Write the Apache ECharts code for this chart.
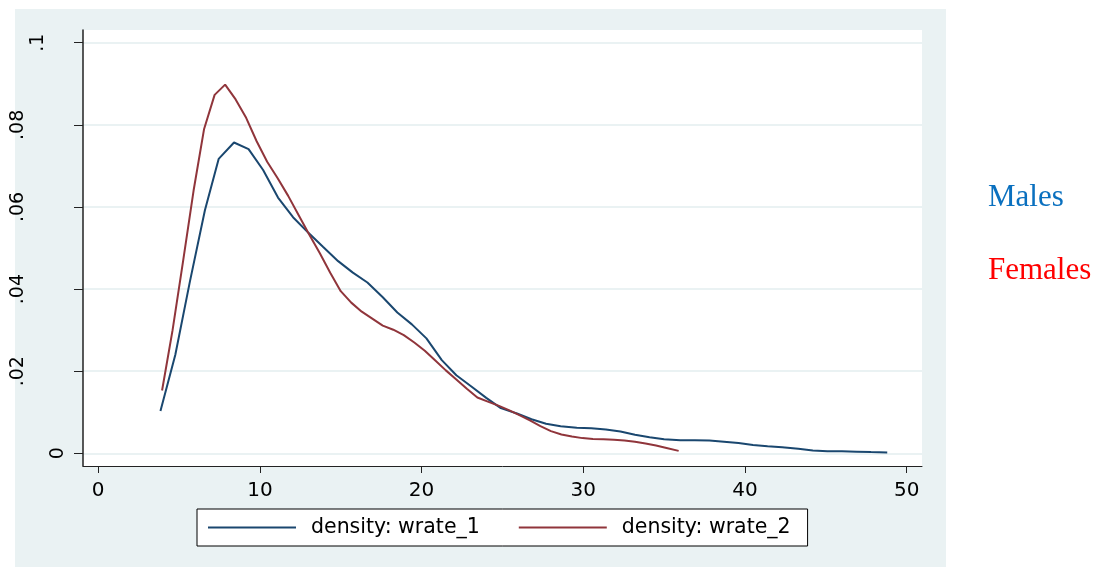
<!DOCTYPE html>
<html>
<head>
<meta charset="utf-8">
<script src="https://cdn.jsdelivr.net/npm/echarts@6/dist/echarts.min.js"></script>
<style>
html, body { margin: 0; padding: 0; background: #fff; }
#chart { width: 1096px; height: 567px; }
</style>
</head>
<body>
<div id="chart"></div>
<script>
var xTicks = [0, 10, 20, 30, 40, 50];
var yTicks = [0, 0.02, 0.04, 0.06, 0.08, 0.1];
var seriesNames = ['density: wrate_1', 'density: wrate_2'];

// [wrate, density]
var males = [
    [3.85, 0.0103], [4.77, 0.0240], [5.68, 0.0420], [6.6, 0.0592], [7.45, 0.0717],
    [8.4, 0.0757], [9.3, 0.0741], [10.2, 0.0690], [11.12, 0.0623], [12.05, 0.0575],
    [13.0, 0.0537], [13.9, 0.0503], [14.84, 0.0468], [15.75, 0.0440], [16.65, 0.0416],
    [17.6, 0.0380], [18.5, 0.0343], [19.4, 0.0314], [20.3, 0.0280], [21.25, 0.0227],
    [22.15, 0.0190], [23.1, 0.0162], [24.0, 0.0135], [24.9, 0.0110], [25.9, 0.0097],
    [26.8, 0.0083], [27.7, 0.0072], [28.6, 0.0066], [29.6, 0.0062], [30.5, 0.0061],
    [31.4, 0.0058], [32.3, 0.0053], [33.2, 0.0045], [34.1, 0.0039], [35.0, 0.0034],
    [36.0, 0.0032], [36.9, 0.0032], [37.8, 0.0031], [38.7, 0.0028], [39.6, 0.0025],
    [40.5, 0.0020], [41.4, 0.0017], [42.3, 0.0015], [43.3, 0.0011], [44.2, 0.0007],
    [45.1, 0.0005], [46.0, 0.0005], [46.9, 0.0004], [47.8, 0.0003], [48.8, 0.0002]
];
var females = [
    [3.95, 0.0153], [4.6, 0.0300], [5.25, 0.0468], [5.9, 0.0640], [6.55, 0.0790],
    [7.2, 0.0873], [7.85, 0.0898], [8.5, 0.0862], [9.15, 0.0817], [9.8, 0.0760],
    [10.45, 0.0710], [11.1, 0.0670], [11.75, 0.0627], [12.4, 0.0580], [13.05, 0.0533],
    [13.7, 0.0488], [14.35, 0.0440], [15.0, 0.0395], [15.65, 0.0367], [16.3, 0.0345],
    [16.95, 0.0328], [17.6, 0.0311], [18.25, 0.0301], [18.9, 0.0288], [19.55, 0.0270],
    [20.2, 0.0250], [20.85, 0.0226], [21.5, 0.0202], [22.15, 0.0180], [22.8, 0.0157],
    [23.45, 0.0136], [24.1, 0.0126], [24.75, 0.0116], [25.4, 0.0105], [26.05, 0.0093],
    [26.7, 0.0080], [27.35, 0.0066], [28.0, 0.0054], [28.65, 0.0046], [29.3, 0.0041],
    [29.95, 0.0037], [30.6, 0.0035], [31.25, 0.0034], [31.9, 0.0033], [32.55, 0.0031],
    [33.2, 0.0028], [33.85, 0.0024], [34.5, 0.0019], [35.15, 0.0013], [35.9, 0.0006]
];

var chart = echarts.init(document.getElementById('chart'));
var font = 'DejaVu Sans';

chart.setOption({
    backgroundColor: '#fff',
    animation: false,
    graphic: [{
        type: 'rect', z: -10, silent: true,
        shape: { x: 15, y: 9, width: 931, height: 558 },
        style: { fill: '#eaf2f3' }
    }, {
        type: 'text', left: 988, top: 182,
        style: { text: 'Males', fill: '#0a70bf', font: '31px "Liberation Serif"' }
    }, {
        type: 'text', left: 988, top: 255,
        style: { text: 'Females', fill: '#ff0000', font: '31px "Liberation Serif"' }
    }],
    grid: {
        left: 83, top: 30, right: 174, bottom: 101,
        show: true, backgroundColor: '#fff', borderWidth: 0
    },
    legend: {
        left: 197, top: 509,
        padding: [8, 17, 8, 11],
        itemGap: 39,
        icon: 'rect',
        itemWidth: 88, itemHeight: 2,
        backgroundColor: '#fff',
        borderColor: '#000', borderWidth: 1, borderRadius: 0,
        textStyle: { fontFamily: font, fontSize: 20.5, color: '#000', padding: [0, 0, 0, 10] },
        data: seriesNames
    },
    xAxis: {
        type: 'value', min: -0.94, max: 50.95,
        axisLine: { show: true, onZero: false, lineStyle: { color: '#222', width: 1 } },
        axisTick: { show: true, length: 7, customValues: xTicks, lineStyle: { color: '#222' } },
        axisLabel: { customValues: xTicks, margin: 15, fontFamily: font, fontSize: 20, color: '#000' },
        splitLine: { show: false }
    },
    yAxis: {
        type: 'value', min: -0.00309, max: 0.1031,
        axisLine: { show: true, onZero: false, lineStyle: { color: '#222', width: 1.5 } },
        axisTick: { show: true, length: 9, customValues: yTicks, lineStyle: { color: '#222' } },
        axisLabel: {
            customValues: yTicks, rotate: 90, margin: 15,
            fontFamily: font, fontSize: 19, color: '#000',
            formatter: function (v) {
                var s = String(v).replace(/^0\./, '.');
                return '{s' + s.length + '|' + s + '}';
            },
            rich: {
                s1: { fontFamily: font, fontSize: 19, padding: [0, 0, 0, 0] },
                s2: { fontFamily: font, fontSize: 19, padding: [0, 0, 20, 0] },
                s3: { fontFamily: font, fontSize: 19, padding: [0, 0, 40, 0] }
            }
        },
        splitLine: { show: true, lineStyle: { color: '#eaf2f3', width: 2 } }
    },
    series: [{
        name: seriesNames[0], type: 'line', data: males,
        showSymbol: false, symbol: 'none',
        lineStyle: { color: '#1a476f', width: 2 }, itemStyle: { color: '#1a476f' }
    }, {
        name: seriesNames[1], type: 'line', data: females,
        showSymbol: false, symbol: 'none',
        lineStyle: { color: '#90353b', width: 2 }, itemStyle: { color: '#90353b' }
    }]
});
</script>
</body>
</html>
